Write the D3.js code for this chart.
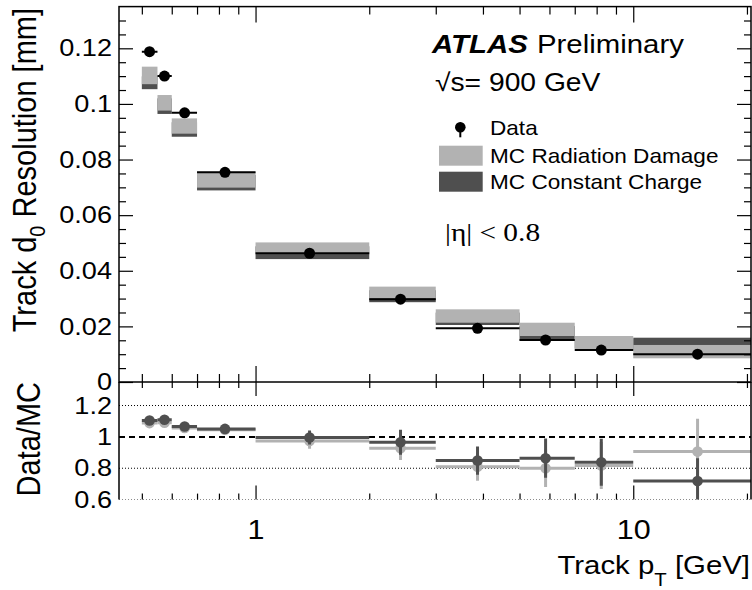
<!DOCTYPE html>
<html>
<head>
<meta charset="utf-8">
<script src="https://cdn.jsdelivr.net/npm/d3@7"></script>
<style>
  html, body { margin: 0; padding: 0; background: #fff; }
  svg { display: block; }
  text { font-family: "Liberation Sans", Arial, Helvetica, sans-serif; fill: #000; }
</style>
</head>
<body>
<svg id="chart" width="752" height="590"></svg>
<script>
// ---- data: track transverse impact parameter resolution vs pT, |eta| < 0.8 ----
const binLow  = [0.5, 0.55, 0.6, 0.7, 1, 2, 3, 5, 7, 10];
const binHigh = [0.55, 0.6, 0.7, 1, 2, 3, 5, 7, 10, 25];
const meanPt  = [0.524, 0.574, 0.649, 0.83, 1.39, 2.42, 3.87, 5.86, 8.23, 14.8];

const dataRes = [0.1188, 0.1100, 0.0968, 0.0754, 0.0463, 0.0298, 0.0193, 0.0151, 0.0115, 0.0100];
const dataErr = [0.0008, 0.0007, 0.0006, 0.0005, 0.0004, 0.0004, 0.0004, 0.0004, 0.0004, 0.0004];

const mcRadDamage    = [0.11025, 0.1004, 0.09205, 0.07275, 0.0481, 0.0322, 0.02373, 0.01893, 0.0142, 0.01092];
const mcRadDamageErr = [0.00315, 0.0028, 0.00275, 0.00285, 0.0021, 0.0021, 0.00241, 0.00239, 0.00234, 0.0024];
const mcConstCharge    = [0.1076, 0.0992, 0.0908, 0.0717, 0.0465, 0.03085, 0.02273, 0.01748, 0.01372, 0.01385];
const mcConstChargeErr = [0.0023, 0.0028, 0.0026, 0.0028, 0.0023, 0.00215, 0.00223, 0.00263, 0.0017, 0.00208];

const ratioRadDamage       = [1.088, 1.09, 1.057, 1.045, 0.974, 0.928, 0.81, 0.80, 0.817, 0.906];
const ratioRadDamageErr    = [0.012, 0.012, 0.010, 0.012, 0.050, 0.075, 0.09, 0.12, 0.15, 0.21];
const ratioConstCharge     = [1.104, 1.109, 1.066, 1.051, 0.996, 0.966, 0.849, 0.864, 0.838, 0.719];
const ratioConstChargeErr  = [0.012, 0.012, 0.010, 0.012, 0.045, 0.080, 0.09, 0.125, 0.15, 0.145];

const resTicks      = [0, 0.02, 0.04, 0.06, 0.08, 0.1, 0.12];
const resMinorTicks = [0.005, 0.01, 0.015, 0.025, 0.03, 0.035, 0.045, 0.05, 0.055, 0.065, 0.07, 0.075,
                       0.085, 0.09, 0.095, 0.105, 0.11, 0.115, 0.125, 0.13];
const ratioTicks    = [0.6, 0.8, 1, 1.2];
const ratioDotted   = [0.6, 0.8, 1.2];
const ptTicks       = [1, 10];
const ptMinorTicks  = [0.5, 0.6, 0.7, 0.8, 0.9, 2, 3, 4, 5, 6, 7, 8, 9, 20];

const legendLabels = ["Data", "MC Radiation Damage", "MC Constant Charge"];

// ---- layout ----
const frameL = 119, frameR = 751, topY = 6.6, splitY = 382, botY = 499.6;
const SX = 1.13;              // horizontal text stretch
const LIGHT = "#b2b2b2", DARK = "#4f4f4f";

const svg = d3.select("#chart");

const x = d3.scaleLog().domain([0.435, 20.5]).range([frameL, frameR]);
const yRes = d3.scaleLinear().domain([0, 0.135]).range([splitY, topY]);
const yRatio = d3.scaleLinear().domain([0.6, 1.35]).range([botY, splitY]);

const bins = binLow.map((lo, i) => ({
  lo, hi: binHigh[i], pt: meanPt[i],
  data: dataRes[i], dErr: dataErr[i],
  rd: mcRadDamage[i], rdErr: mcRadDamageErr[i],
  cc: mcConstCharge[i], ccErr: mcConstChargeErr[i],
  rRd: ratioRadDamage[i], rRdErr: ratioRadDamageErr[i],
  rCc: ratioConstCharge[i], rCcErr: ratioConstChargeErr[i]
}));

const defs = svg.append("defs");
defs.append("clipPath").attr("id", "clipTop").append("rect")
  .attr("x", frameL).attr("y", topY).attr("width", frameR - frameL).attr("height", splitY - topY);
defs.append("clipPath").attr("id", "clipBot").append("rect")
  .attr("x", frameL).attr("y", splitY).attr("width", frameR - frameL).attr("height", botY - splitY);

// ---- upper panel: MC bands and data ----
const upper = svg.append("g").attr("clip-path", "url(#clipTop)");

function band(cls, val, err, color) {
  upper.selectAll("rect." + cls).data(bins).join("rect").attr("class", cls)
    .attr("x", d => x(d.lo)).attr("width", d => x(d.hi) - x(d.lo))
    .attr("y", d => yRes(d[val] + d[err]))
    .attr("height", d => yRes(d[val] - d[err]) - yRes(d[val] + d[err]))
    .attr("fill", color);
}
band("cc", "cc", "ccErr", DARK);
band("rd", "rd", "rdErr", LIGHT);

upper.selectAll("line.dataH").data(bins).join("line").attr("class", "dataH")
  .attr("x1", d => x(d.lo)).attr("x2", d => x(d.hi))
  .attr("y1", d => yRes(d.data)).attr("y2", d => yRes(d.data))
  .attr("stroke", "#000").attr("stroke-width", 2);
upper.selectAll("line.dataV").data(bins).join("line").attr("class", "dataV")
  .attr("x1", d => x(d.pt)).attr("x2", d => x(d.pt))
  .attr("y1", d => yRes(d.data + d.dErr)).attr("y2", d => yRes(d.data - d.dErr))
  .attr("stroke", "#000").attr("stroke-width", 2);
upper.selectAll("circle.data").data(bins).join("circle").attr("class", "data")
  .attr("cx", d => x(d.pt)).attr("cy", d => yRes(d.data)).attr("r", 5.5).attr("fill", "#000");

// ---- lower panel: Data/MC ratios ----
const lower = svg.append("g").attr("clip-path", "url(#clipBot)");

lower.selectAll("line.dot").data(ratioDotted).join("line").attr("class", "dot")
  .attr("x1", frameL).attr("x2", frameR)
  .attr("y1", d => yRatio(d)).attr("y2", d => yRatio(d))
  .attr("stroke", "#000").attr("stroke-width", 1).attr("stroke-dasharray", "1,2");
lower.append("line")
  .attr("x1", frameL).attr("x2", frameR).attr("y1", yRatio(1)).attr("y2", yRatio(1))
  .attr("stroke", "#000").attr("stroke-width", 2).attr("stroke-dasharray", "6,4");

function ratioSeries(cls, val, err, color) {
  const g = lower.append("g").attr("class", cls);
  g.selectAll("line.h").data(bins).join("line").attr("class", "h")
    .attr("x1", d => x(d.lo)).attr("x2", d => x(d.hi))
    .attr("y1", d => yRatio(d[val])).attr("y2", d => yRatio(d[val]))
    .attr("stroke", color).attr("stroke-width", 3);
  g.selectAll("line.v").data(bins).join("line").attr("class", "v")
    .attr("x1", d => x(d.pt)).attr("x2", d => x(d.pt))
    .attr("y1", d => yRatio(d[val] + d[err])).attr("y2", d => yRatio(d[val] - d[err]))
    .attr("stroke", color).attr("stroke-width", 3);
  g.selectAll("circle").data(bins).join("circle")
    .attr("cx", d => x(d.pt)).attr("cy", d => yRatio(d[val])).attr("r", 5.3).attr("fill", color);
}
ratioSeries("ratioRd", "rRd", "rRdErr", LIGHT);
ratioSeries("ratioCc", "rCc", "rCcErr", DARK);

// ---- axes ----
function styleAxis(g, size) {
  g.select(".domain").remove();
  g.selectAll(".tick line").attr("stroke", "#000").attr("stroke-width", 1.2);
  g.selectAll(".tick text")
    .style("font-size", size + "px")
    .attr("fill", "#000")
    .attr("transform", `scale(${SX},1)`);
}
const fmt = d3.format("~g");
const blank = () => "";

// upper panel y
svg.append("g").attr("transform", `translate(${frameL},0)`)
  .call(d3.axisLeft(yRes).tickValues(resTicks).tickFormat(fmt)
    .tickSizeInner(-14).tickSizeOuter(0).tickPadding(7 / SX))
  .call(g => styleAxis(g, 24));
svg.append("g").attr("transform", `translate(${frameL},0)`)
  .call(d3.axisLeft(yRes).tickValues(resMinorTicks).tickFormat(blank).tickSizeInner(-7).tickSizeOuter(0))
  .call(g => styleAxis(g, 24));
svg.append("g").attr("transform", `translate(${frameR},0)`)
  .call(d3.axisRight(yRes).tickValues(resTicks).tickFormat(blank).tickSizeInner(-14).tickSizeOuter(0))
  .call(g => styleAxis(g, 24));
svg.append("g").attr("transform", `translate(${frameR},0)`)
  .call(d3.axisRight(yRes).tickValues(resMinorTicks).tickFormat(blank).tickSizeInner(-7).tickSizeOuter(0))
  .call(g => styleAxis(g, 24));

// upper panel x (top and bottom edges)
[[d3.axisBottom, splitY], [d3.axisTop, topY]].forEach(([ax, yy]) => {
  svg.append("g").attr("transform", `translate(0,${yy})`)
    .call(ax(x).tickValues(ptTicks).tickFormat(blank).tickSizeInner(-16).tickSizeOuter(0))
    .call(g => styleAxis(g, 24));
  svg.append("g").attr("transform", `translate(0,${yy})`)
    .call(ax(x).tickValues(ptMinorTicks).tickFormat(blank).tickSizeInner(-8).tickSizeOuter(0))
    .call(g => styleAxis(g, 24));
});

// lower panel x
svg.append("g").attr("transform", `translate(0,${botY})`)
  .call(d3.axisBottom(x).tickValues(ptTicks).tickFormat(fmt).tickSizeInner(-14).tickSizeOuter(0).tickPadding(20))
  .call(g => styleAxis(g, 27));
svg.append("g").attr("transform", `translate(0,${botY})`)
  .call(d3.axisBottom(x).tickValues(ptMinorTicks).tickFormat(blank).tickSizeInner(-6).tickSizeOuter(0))
  .call(g => styleAxis(g, 27));
svg.append("g").attr("transform", `translate(0,${splitY})`)
  .call(d3.axisTop(x).tickValues(ptTicks).tickFormat(blank).tickSizeInner(-14).tickSizeOuter(0))
  .call(g => styleAxis(g, 27));
svg.append("g").attr("transform", `translate(0,${splitY})`)
  .call(d3.axisTop(x).tickValues(ptMinorTicks).tickFormat(blank).tickSizeInner(-6).tickSizeOuter(0))
  .call(g => styleAxis(g, 27));

// lower panel y labels
svg.append("g").attr("transform", `translate(${frameL},0)`)
  .call(d3.axisLeft(yRatio).tickValues(ratioTicks).tickFormat(fmt).tickSizeInner(0).tickSizeOuter(0).tickPadding(7 / SX))
  .call(g => styleAxis(g, 24));

// ---- frames ----
svg.append("rect").attr("x", frameL).attr("y", topY)
  .attr("width", frameR - frameL).attr("height", splitY - topY)
  .attr("fill", "none").attr("stroke", "#000").attr("stroke-width", 1.5);
svg.append("path")
  .attr("d", `M${frameL},${botY}V${splitY}M${frameR},${splitY}V${botY}`)
  .attr("fill", "none").attr("stroke", "#000").attr("stroke-width", 1.5);

// ---- titles ----
const yTitle = svg.append("text")
  .attr("transform", `translate(35.5,8) scale(${SX},1) rotate(-90)`)
  .attr("text-anchor", "end").style("font-size", "29px");
yTitle.append("tspan").text("Track d");
yTitle.append("tspan").attr("dy", 8).style("font-size", "20px").text("0");
yTitle.append("tspan").attr("dy", -8).text(" Resolution [mm]");

svg.append("text")
  .attr("transform", `translate(40,${splitY}) scale(${SX},1) rotate(-90)`)
  .attr("text-anchor", "end").style("font-size", "29px").text("Data/MC");

const xTitle = svg.append("text")
  .attr("transform", `translate(750,574) scale(${SX},1)`)
  .attr("text-anchor", "end").style("font-size", "26px");
xTitle.append("tspan").text("Track p");
xTitle.append("tspan").attr("dy", 12).style("font-size", "18px").text("T");
xTitle.append("tspan").attr("dy", -12).text(" [GeV]");

// ---- labels ----
svg.append("text").attr("transform", `translate(432,53) scale(${SX},1)`)
  .style("font-size", "26px").style("font-weight", "bold").style("font-style", "italic").text("ATLAS");
svg.append("text").attr("transform", `translate(537,53) scale(${SX},1)`)
  .style("font-size", "26px").text("Preliminary");
svg.append("text").attr("transform", `translate(435,91) scale(${SX},1)`)
  .style("font-size", "25px").text("√s= 900 GeV");
svg.append("text").attr("transform", `translate(445,241) scale(${SX},1)`)
  .style("font-family", '"Liberation Serif", "Times New Roman", serif')
  .style("font-size", "26px").text("|η| < 0.8");

// ---- legend ----
const leg = svg.append("g");
leg.append("line").attr("x1", 460.3).attr("x2", 460.3).attr("y1", 122.7).attr("y2", 137.3)
  .attr("stroke", "#000").attr("stroke-width", 2);
leg.append("circle").attr("cx", 460.3).attr("cy", 127.3).attr("r", 5.3).attr("fill", "#000");
leg.append("rect").attr("x", 439).attr("y", 145.7).attr("width", 43.7).attr("height", 20).attr("fill", LIGHT);
leg.append("rect").attr("x", 439).attr("y", 171.7).attr("width", 43.7).attr("height", 20).attr("fill", DARK);
[134.5, 162.9, 188.9].forEach((yy, i) => {
  leg.append("text").attr("transform", `translate(490,${yy}) scale(${SX},1)`)
    .style("font-size", "20px").text(legendLabels[i]);
});
</script>
</body>
</html>
